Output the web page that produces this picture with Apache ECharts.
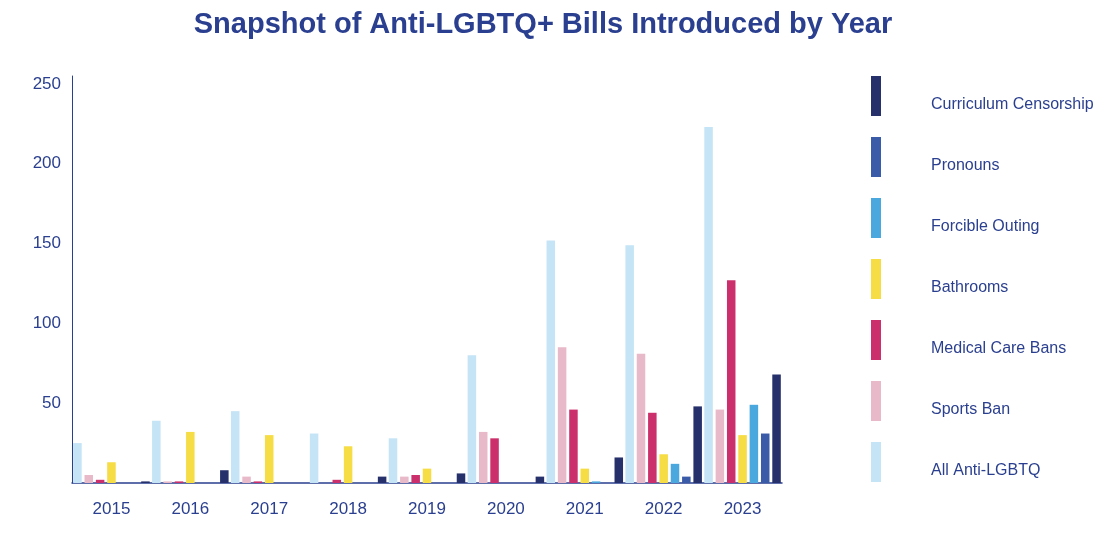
<!DOCTYPE html>
<html>
<head>
<meta charset="utf-8">
<script src="https://cdn.jsdelivr.net/npm/echarts@6/dist/echarts.min.js"></script>
<style>
  html, body { margin: 0; padding: 0; background: #fff; }
  #chart-container { width: 1116px; height: 538px; }
</style>
</head>
<body>
<div id="chart-container"></div>
<script>
var years = ['2015', '2016', '2017', '2018', '2019', '2020', '2021', '2022', '2023'];
var allAntiLgbtq = [25, 39, 45, 31, 28, 80, 152, 149, 223];
var sportsBan = [5, 1, 4, 0, 4, 32, 85, 81, 46];
var medicalCareBans = [2, 1, 1, 2, 5, 28, 46, 44, 127];
var bathrooms = [13, 32, 30, 23, 9, 0, 9, 18, 30];
var forcibleOuting = [0, 0, 0, 0, 0, 0, 1, 12, 49];
var pronouns = [0, 0, 0, 0, 0, 0, 0, 4, 31];
var curriculumCensorship = [1, 8, 0, 4, 6, 4, 16, 48, 68];
var yTicks = [50, 100, 150, 200, 250];

var textColor = '#2a3f8f';
var font = '"Liberation Sans", Arial, sans-serif';

var dom = document.getElementById('chart-container');
var myChart = echarts.init(dom, null, { renderer: 'canvas' });

function bar(name, data, color) {
  return {
    name: name,
    type: 'bar',
    data: data,
    barGap: '33%',
    barCategoryGap: '3%',
    itemStyle: { color: color },
    emphasis: { focus: 'series' }
  };
}

var option = {
  animation: false,
  title: {
    text: 'Snapshot of Anti-LGBTQ+ Bills Introduced by Year',
    left: 538,
    textAlign: 'center',
    top: 5,
    textStyle: { color: textColor, fontFamily: font, fontWeight: 'bold', fontSize: 29 }
  },
  legend: {
    orient: 'vertical',
    left: 871,
    top: 76,
    padding: 0,
    itemWidth: 10,
    itemHeight: 40,
    itemGap: 21,
    icon: 'rect',
    data: ['Curriculum Censorship', 'Pronouns', 'Forcible Outing', 'Bathrooms',
           'Medical Care Bans', 'Sports Ban', 'All Anti-LGBTQ'],
    formatter: '{a|{name}}',
    textStyle: {
      color: textColor, fontFamily: font, fontSize: 16,
      rich: { a: { color: textColor, fontFamily: font, fontSize: 16, padding: [18, 0, 0, 45] } }
    }
  },
  grid: { left: 72, right: 334, top: 76, bottom: 55 },
  xAxis: {
    type: 'category',
    data: years,
    axisTick: { show: false },
    axisLine: { lineStyle: { color: textColor, width: 1.5 } },
    axisLabel: { color: textColor, fontFamily: font, fontSize: 17, margin: 18 }
  },
  yAxis: {
    type: 'value',
    min: 0,
    max: 255,
    interval: 50,
    splitLine: { show: false },
    axisTick: { show: false },
    axisLine: { show: true, lineStyle: { color: textColor, width: 1 } },
    axisLabel: {
      color: textColor, fontFamily: font, fontSize: 17, margin: 11,
      formatter: function (v) { return yTicks.indexOf(v) >= 0 ? String(v) : ''; }
    }
  },
  series: [
    bar('All Anti-LGBTQ', allAntiLgbtq, '#c5e4f6'),
    bar('Sports Ban', sportsBan, '#e8b9c9'),
    bar('Medical Care Bans', medicalCareBans, '#cc306c'),
    bar('Bathrooms', bathrooms, '#f6dc45'),
    bar('Forcible Outing', forcibleOuting, '#4aa8df'),
    bar('Pronouns', pronouns, '#3a5ba8'),
    bar('Curriculum Censorship', curriculumCensorship, '#26306b')
  ]
};

myChart.setOption(option);
window.addEventListener('resize', myChart.resize);
</script>
</body>
</html>
